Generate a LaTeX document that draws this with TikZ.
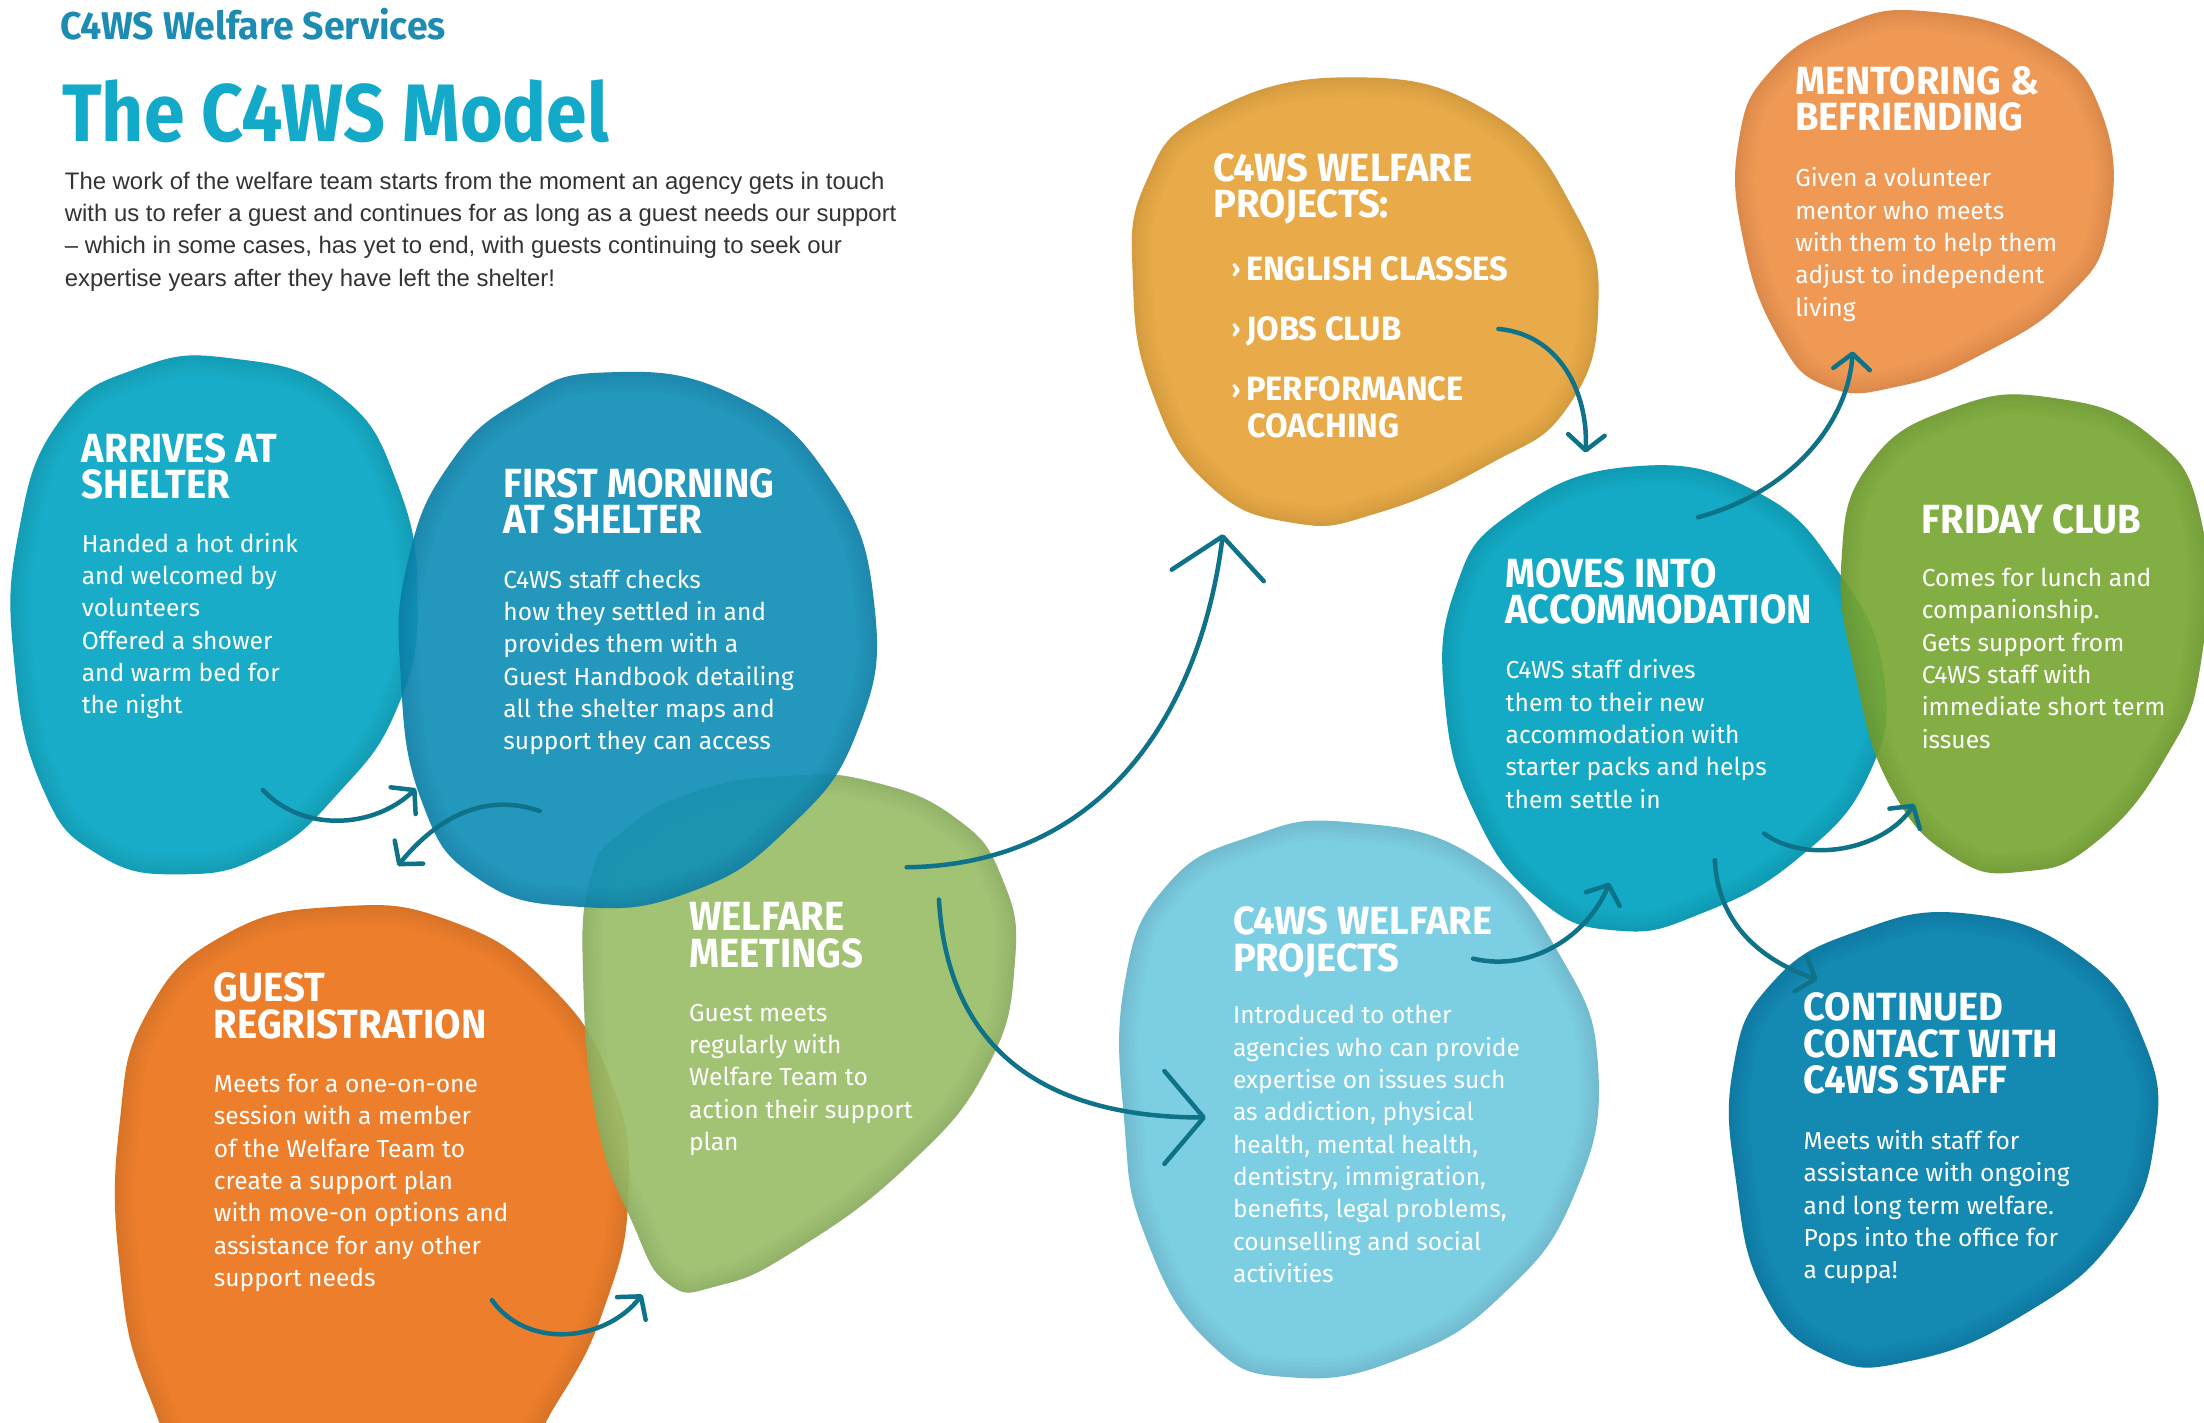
\documentclass[tikz,border=0pt]{standalone}
\usepackage{fontspec}
\setmainfont{Fira Sans}
\newfontfamily\headcond{Fira Sans}[FakeStretch=0.94]
\newfontfamily\headwide{Fira Sans}[FakeStretch=0.97]
\newfontfamily\titlef{Fira Sans}[FakeStretch=0.9]
\newfontfamily\bodyf{Fira Sans}
\newfontfamily\introf{Liberation Sans}
\usetikzlibrary{arrows.meta}
\definecolor{cA}{HTML}{06A6C4}
\definecolor{cB}{HTML}{118FB7}
\definecolor{cC}{HTML}{EC741B}
\definecolor{cD}{HTML}{9BBE69}
\definecolor{cE}{HTML}{E8A43A}
\definecolor{cF}{HTML}{EF9147}
\definecolor{cG}{HTML}{00A3C1}
\definecolor{cH}{HTML}{79A833}
\definecolor{cI}{HTML}{71CBE1}
\definecolor{cJ}{HTML}{0080AC}
\definecolor{arrowc}{HTML}{0E7288}
\definecolor{tone}{HTML}{1E8CB2}
\definecolor{ttwo}{HTML}{13A9C9}
\definecolor{introc}{HTML}{333333}
\newcommand\blobA{plot[smooth cycle, tension=0.8] coordinates {(165,255) (240,280) (283,345) (297,430) (282,505) (240,565) (190,607) (130,622) (70,608) (30,560) (10,470) (13,380) (42,300) (98,262)}}
\newcommand\blobB{plot[smooth cycle, tension=0.8] coordinates {(430,265) (520,280) (590,340) (622,430) (610,520) (560,590) (490,635) (410,645) (340,625) (300,570) (285,480) (290,400) (320,330) (370,285)}}
\newcommand\blobD{plot[smooth cycle, tension=0.8] coordinates {(560,552) (620,556) (680,582) (713,625) (722,685) (702,760) (645,830) (565,890) (510,915) (475,913) (450,870) (425,800) (415,700) (420,625) (445,590) (495,563)}}
\newcommand\blobC{plot[smooth cycle, tension=0.8] coordinates {(240,645) (320,655) (390,700) (435,770) (447,850) (430,930) (395,1000) (350,1060) (250,1090) (150,1060) (105,990) (85,900) (85,800) (105,720) (160,665)}}
\newcommand\blobE{plot[smooth cycle, tension=0.8] coordinates {(960,55) (1060,80) (1120,150) (1137,220) (1115,290) (1060,330) (980,365) (920,372) (860,345) (820,280) (806,200) (815,130) (860,80)}}
\newcommand\blobF{plot[smooth cycle, tension=0.8] coordinates {(1370,8) (1450,30) (1495,80) (1500,160) (1470,212) (1410,252) (1350,275) (1300,275) (1265,240) (1240,170) (1237,100) (1260,50) (1310,18)}}
\newcommand\blobH{plot[smooth cycle, tension=0.8] coordinates {(1460,283) (1530,310) (1566,370) (1566,470) (1540,540) (1490,600) (1440,620) (1390,610) (1345,560) (1320,480) (1310,400) (1330,330) (1390,290)}}
\newcommand\blobI{plot[smooth cycle, tension=0.8] coordinates {(960,585) (1050,610) (1110,680) (1137,760) (1120,850) (1070,920) (1000,965) (920,980) (860,955) (815,880) (800,800) (800,700) (830,630) (890,595)}}
\newcommand\blobG{plot[smooth cycle, tension=0.8] coordinates {(1160,332) (1250,350) (1310,410) (1340,480) (1330,550) (1280,610) (1210,650) (1150,662) (1095,640) (1050,580) (1028,500) (1035,420) (1075,365)}}
\newcommand\blobJ{plot[smooth cycle, tension=0.8] coordinates {(1400,650) (1480,680) (1525,740) (1533,810) (1505,880) (1440,935) (1360,968) (1300,965) (1255,920) (1235,840) (1233,760) (1260,700) (1320,663)}}
\newcommand\drawblob[2]{%
  \fill[#1, fill opacity=0.92] #2;
  \begin{scope}
    \clip #2;
    \draw[black, opacity=0.014, line width=28pt] #2;
    \draw[black, opacity=0.014, line width=22pt] #2;
    \draw[black, opacity=0.014, line width=16pt] #2;
    \draw[black, opacity=0.014, line width=10pt] #2;
    \draw[black, opacity=0.014, line width=5pt] #2;
  \end{scope}}
\tikzset{
  htc/.style={anchor=north west, inner sep=0pt, align=left, text=white, font=\headcond\bfseries\fontsize{29}{26}\selectfont},
  htw/.style={anchor=north west, inner sep=0pt, align=left, text=white, font=\headwide\bfseries\fontsize{28}{26}\selectfont},
  hti/.style={anchor=north west, inner sep=0pt, align=left, text=white, font=\headwide\bfseries\fontsize{24}{26}\selectfont},
  bt/.style={anchor=north west, inner sep=0pt, align=left, text=white, font=\bodyf\fontsize{17.5}{23}\selectfont},
  arr/.style={draw=arrowc, line width=3.2pt, line cap=round, -{Straight Barb[length=11pt,width=26pt,round]}},
  bigarr/.style={draw=arrowc, line width=3.2pt, line cap=round, -{Straight Barb[length=28pt,width=66pt,round]}},
}
\newcommand\chev{{\fontsize{18}{18}\selectfont\raisebox{2pt}{›}}\,}
\begin{document}
\begin{tikzpicture}[x=1pt,y=-1pt]
\useasboundingbox (0,0) rectangle (1568,1012);
\clip (0,0) rectangle (1568,1012);
\fill[white] (0,0) rectangle (1568,1012);

% blobs
\drawblob{cA}{\blobA}
\drawblob{cC}{\blobC}
\drawblob{cD}{\blobD}
\drawblob{cB}{\blobB}
\drawblob{cE}{\blobE}
\drawblob{cF}{\blobF}
\drawblob{cG}{\blobG}
\drawblob{cH}{\blobH}
\drawblob{cI}{\blobI}
\drawblob{cJ}{\blobJ}

% header
\node[anchor=base west, inner sep=0pt, text=tone, font=\headwide\bfseries\fontsize{27.5}{27.5}\selectfont] (sub) at (43,28) {C4WS Welfare Services};
\node[anchor=base west, inner sep=0pt, text=ttwo, font=\titlef\bfseries\fontsize{58}{58}\selectfont] (ttl) at (44,101) {The C4WS Model};
\node[anchor=north west, inner sep=0pt, align=left, text=introc, font=\introf\fontsize{17}{23}\selectfont] (intro) at (46,122) {The work of the welfare team starts from the moment an agency gets in touch\\with us to refer a guest and continues for as long as a guest needs our support\\– which in some cases, has yet to end, with guests continuing to seek our\\expertise years after they have left the shelter!};

% texts
\node[htc] (t1) at (58,308) {ARRIVES AT\\SHELTER};
\node[bt] (b1) at (58,379) {Handed a hot drink\\and welcomed by\\volunteers\\Offered a shower\\and warm bed for\\the night};
\node[htc] (t2) at (358,333) {FIRST MORNING\\AT SHELTER};
\node[bt] (b2) at (358,405) {C4WS staff checks\\how they settled in and\\provides them with a\\Guest Handbook detailing\\all the shelter maps and\\support they can access};
\node[htc] (t3) at (152,692) {GUEST\\REGRISTRATION};
\node[bt] (b3) at (152,764) {Meets for a one-on-one\\session with a member\\of the Welfare Team to\\create a support plan\\with move-on options and\\assistance for any other\\support needs};
\node[htc] (t4) at (490,642) {WELFARE\\MEETINGS};
\node[bt] (b4) at (490,714) {Guest meets\\regularly with\\Welfare Team to\\action their support\\plan};
\node[htw] (t5) at (863,109) {C4WS WELFARE\\PROJECTS:};
\node[hti] (i5a) at (876,182) {\chev ENGLISH CLASSES};
\node[hti] (i5b) at (876,225) {\chev JOBS CLUB};
\node[hti] (i5c) at (876,268) {\chev PERFORMANCE\\\hspace*{11pt}COACHING};
\node[htw] (t6) at (1277,47) {MENTORING \&\\BEFRIENDING};
\node[bt] (b6) at (1277,119) {Given a volunteer\\mentor who meets\\with them to help them\\adjust to independent\\living};
\node[htc] (t7) at (1071,397) {MOVES INTO\\ACCOMMODATION};
\node[bt] (b7) at (1071,469) {C4WS staff drives\\them to their new\\accommodation with\\starter packs and helps\\them settle in};
\node[htc] (t8) at (1367,359) {FRIDAY CLUB};
\node[bt] (b8) at (1367,404) {Comes for lunch and\\companionship.\\Gets support from\\C4WS staff with\\immediate short term\\issues};
\node[htw] (t9) at (877,645) {C4WS WELFARE\\PROJECTS};
\node[bt] (b9) at (877,715) {Introduced to other\\agencies who can provide\\expertise on issues such\\as addiction, physical\\health, mental health,\\dentistry, immigration,\\benefits, legal problems,\\counselling and social\\activities};
\node[htw] (t10) at (1283,706) {CONTINUED\\CONTACT WITH\\C4WS STAFF};
\node[bt] (b10) at (1283,804) {Meets with staff for\\assistance with ongoing\\and long term welfare.\\Pops into the office for\\a cuppa!};

% arrow end points
\coordinate (a1s) at (187,562); \coordinate (a1e) at (296,561);
\coordinate (a2s) at (384,577); \coordinate (a2e) at (283,616);
\coordinate (a3s) at (350,925); \coordinate (a3e) at (457,921);
\coordinate (a4s) at (645,617); \coordinate (a4e) at (870,380);
\coordinate (a5s) at (668,640); \coordinate (a5e) at (858,795);
\coordinate (a6s) at (1066,234); \coordinate (a6e) at (1128,322);
\coordinate (a7s) at (1208,368); \coordinate (a7e) at (1318,250);
\coordinate (a8s) at (1255,593); \coordinate (a8e) at (1362,572);
\coordinate (a9s) at (1048,682); \coordinate (a9e) at (1145,628);
\coordinate (a10s) at (1220,612); \coordinate (a10e) at (1293,697);

\draw[arr] (a1s) .. controls (215,592) and (265,590) .. (a1e);
\draw[arr] (a2s) .. controls (335,560) and (300,595) .. (a2e);
\draw[arr] (a3s) .. controls (375,960) and (430,955) .. (a3e);
\draw[bigarr] (a4s) .. controls (790,615) and (855,500) .. (a4e);
\draw[bigarr] (a5s) .. controls (675,760) and (760,795) .. (a5e);
\draw[arr] (a6s) .. controls (1110,238) and (1130,280) .. (a6e);
\draw[arr] (a7s) .. controls (1275,350) and (1315,300) .. (a7e);
\draw[arr] (a8s) .. controls (1285,615) and (1340,605) .. (a8e);
\draw[arr] (a9s) .. controls (1090,692) and (1130,665) .. (a9e);
\draw[arr] (a10s) .. controls (1222,655) and (1250,682) .. (a10e);
\end{tikzpicture}
\end{document}
